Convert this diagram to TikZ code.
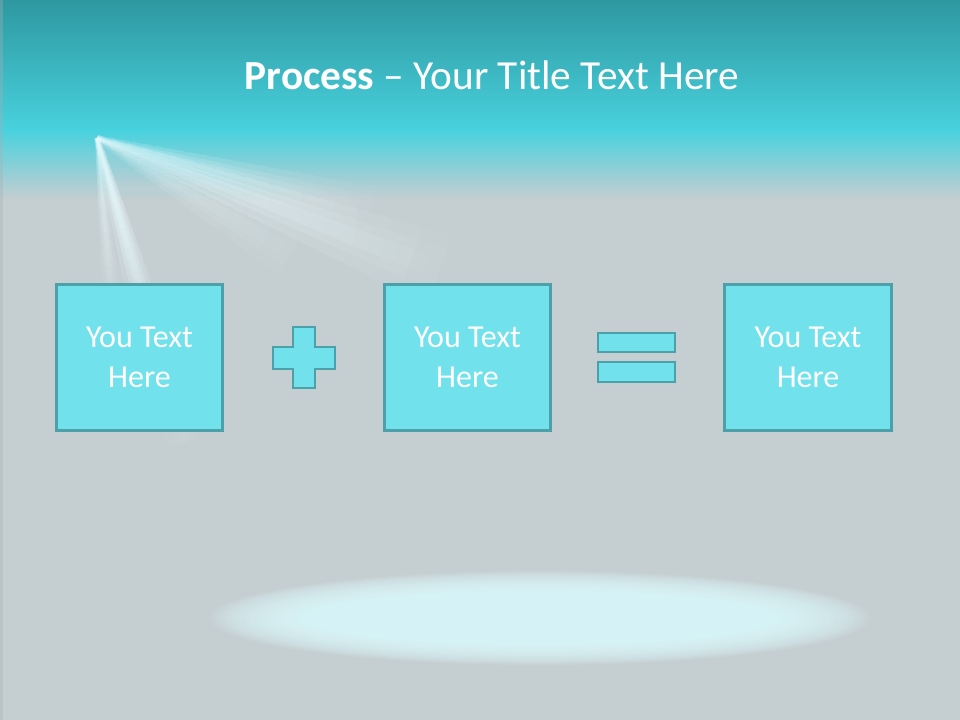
\documentclass[tikz,border=0pt]{standalone}
\usepackage{fontspec}
\setmainfont{Carlito}
\usetikzlibrary{calc}
\definecolor{bgtop}{RGB}{46,152,160}
\definecolor{bgcyan}{RGB}{72,210,222}
\definecolor{bglight}{RGB}{150,214,222}
\definecolor{bggray}{RGB}{197,206,209}
\definecolor{boxfill}{RGB}{113,225,235}
\definecolor{boxline}{RGB}{76,160,170}
\definecolor{spotc}{RGB}{222,251,255}
\definecolor{raycol}{RGB}{235,252,255}
\tikzset{
  procbox/.style={draw=boxline, line width=2.2pt, fill=boxfill, minimum width=125pt, minimum height=110pt, inner sep=0pt, align=center, text=white, font=\fontsize{24}{30}\selectfont},
  opshape/.style={draw=boxline, line width=2.2pt, fill=boxfill}
}
% #1 start, #2 end, #3 start width (pt), #4 end width (pt), #5 max opacity
\newcommand\lightray[5]{%
  \foreach \i in {0,...,23} {
    \pgfmathsetmacro\ta{\i/24}
    \pgfmathsetmacro\tb{(\i+1)/24}
    \pgfmathsetmacro\op{#5*(1-\ta)^0.7/2}
    \pgfmathsetmacro\wd{#3+(#4-#3)*(\ta+\tb)/2}
    \foreach \fac in {1.0,0.6,0.3} {
      \pgfmathsetmacro\lw{\fac*\wd}
      \draw[raycol, line width=\lw pt, draw opacity=\op, line cap=butt]
        ($(#1)!\ta!(#2)$) -- ($(#1)!\tb!(#2)$);
    }
  }%
}
\begin{document}
\begin{tikzpicture}[x=0.75pt, y=-0.75pt]
\useasboundingbox (0,0) rectangle (960,720);
% background
\fill[bggray] (0,0) rectangle (960,720);
\shade[top color=bgtop, bottom color=bgcyan] (0,0) rectangle (960,131);
\shade[top color=bgcyan, middle color=bglight, bottom color=bggray] (0,130) rectangle (960,200);
\fill[bggray!85!black, opacity=0.35] (0,0) rectangle (3,720);
% light rays
\coordinate (src) at (97,138);
\coordinate (r1) at (140,292);
\coordinate (r2) at (112,300);
\coordinate (r3) at (190,455);
\coordinate (r4) at (440,270);
\coordinate (r5) at (300,258);
\coordinate (r6) at (370,210);
% diffuse cone (nested, soft)
\foreach \t in {0.1,0.16,...,1.0} {
  \fill[raycol, fill opacity=0.018] (src) -- ($(src)!\t!(r4)$) -- ($(src)!\t!(r1)$) -- cycle;
}
\lightray{src}{r1}{4}{22}{0.8}
\lightray{src}{r2}{3}{14}{0.55}
\lightray{src}{r3}{3}{30}{0.35}
\lightray{src}{r4}{4}{55}{0.5}
\lightray{src}{r5}{4}{40}{0.3}
\lightray{src}{r6}{4}{36}{0.4}
% spotlight
\foreach \k in {0,1,...,27} {
  \fill[spotc, fill opacity=0.1] (540,618) ellipse [x radius={330-\k*5}, y radius={47-\k*1.1}];
}
% title
\node (title) at (492,75) {\fontsize{31}{37}\selectfont\color{white}\textbf{Process} – Your Title Text Here};
% boxes
\node[procbox] (b1) at (139.5,357.5) {You Text\\Here};
\node[procbox] (b2) at (467.5,357.5) {You Text\\Here};
\node[procbox] (b3) at (808,357.5) {You Text\\Here};
% plus
\draw[opshape] (293,327) -- (315,327) -- (315,347) -- (335,347) -- (335,369) -- (315,369) -- (315,388) -- (293,388) -- (293,369) -- (273,369) -- (273,347) -- (293,347) -- cycle;
% equals
\draw[opshape] (598,333) rectangle (675,352);
\draw[opshape] (598,362) rectangle (675,382);
\end{tikzpicture}
\end{document}
